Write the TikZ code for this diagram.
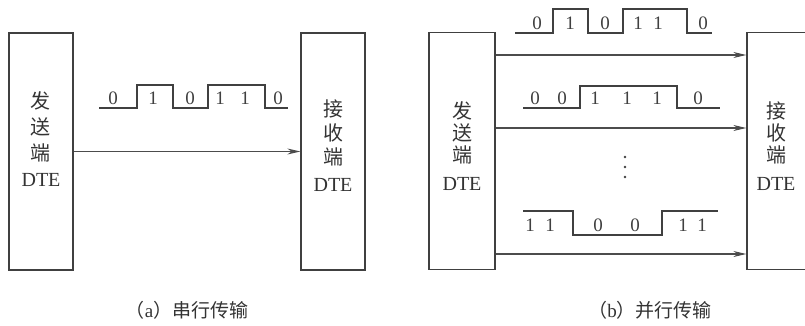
\documentclass[tikz,border=0pt]{standalone}
\usepackage{fontspec}
\setmainfont{Liberation Serif}
\newfontfamily\cjk{Noto Sans CJK SC}
\usetikzlibrary{arrows.meta}
\begin{document}
\begin{tikzpicture}[x=1pt,y=-1pt,
  box/.style={draw=black!75, line width=1.3pt, minimum width=64pt, minimum height=237pt, inner sep=0pt},
  boxtext/.style={align=center, text=black!80, inner sep=0pt},
  bit/.style={font=\fontsize{19}{19}\selectfont, text=black!75, inner sep=0pt},
  wave/.style={draw=black!75, line width=1.3pt},
  arr/.style={draw=black!70, line width=1.1pt, -{Stealth[length=13pt,width=6pt]}},
  captext/.style={font=\fontsize{19}{19}\selectfont, text=black!80, inner sep=0pt}
]
\useasboundingbox (0,0) rectangle (805,326);
\clip (0,0) rectangle (805,326);

% ---------- (a) serial ----------
\node[box] (sa) at (41,151.5) {};
\node[box] (ra) at (333,151.5) {};
\node[boxtext, font=\fontsize{20}{26}\selectfont] (sat) at (41,139) {{\cjk 发}\\{\cjk 送}\\{\cjk 端}\\DTE};
\node[boxtext, font=\fontsize{20}{24}\selectfont] (rat) at (333,146) {{\cjk 接}\\{\cjk 收}\\{\cjk 端}\\[3pt]DTE};
\draw[arr] (sa.east) -- (ra.west);

\draw[wave] (99,108) -- (137,108) -- (137,85) -- (173,85) -- (173,108) -- (208,108) -- (208,85) -- (265,85) -- (265,108) -- (288,108);
\foreach \x/\b [count=\i] in {113/0,153/1,190/0,220/1,245/1,278/0}
  \node[bit] (wa\i) at (\x,98) {\b};

\node[captext] (capa) at (187,310) {{\cjk （}a{\cjk ）串行传输}};

% ---------- (b) parallel ----------
\node[box, minimum width=66pt] (sb) at (462,151) {};
\node[box, minimum width=66pt] (rb) at (780,151) {};
\node[boxtext, font=\fontsize{20}{22}\selectfont] (sbt) at (462,146) {{\cjk 发}\\{\cjk 送}\\{\cjk 端}\\[6pt]DTE};
\node[boxtext, font=\fontsize{20}{22}\selectfont] (rbt) at (776,146) {{\cjk 接}\\{\cjk 收}\\{\cjk 端}\\[6pt]DTE};

\draw[arr] ([yshift=96pt]sb.east) -- ([yshift=96pt]rb.west);
\draw[arr] ([yshift=23pt]sb.east) -- ([yshift=23pt]rb.west);
\draw[arr] ([yshift=-103pt]sb.east) -- ([yshift=-103pt]rb.west);

\draw[wave] (515,33) -- (553,33) -- (553,9) -- (588,9) -- (588,33) -- (623,33) -- (623,9) -- (687,9) -- (687,33) -- (712,33);
\foreach \x/\b [count=\i] in {537/0,570/1,605/0,638/1,658/1,703/0}
  \node[bit] (wb\i) at (\x,23) {\b};

\draw[wave] (523,108) -- (580,108) -- (580,86) -- (677,86) -- (677,108) -- (720,108);
\foreach \x/\b [count=\i] in {535/0,562/0,595/1,627/1,657/1,698/0}
  \node[bit] (wc\i) at (\x,98) {\b};

\foreach \y [count=\i] in {157,167,177}
  \fill[black!75] (625,\y) circle (1.4pt);

\draw[wave] (523,211) -- (573,211) -- (573,235) -- (662,235) -- (662,211) -- (718,211);
\foreach \x/\b [count=\i] in {530/1,550/1,598/0,635/0,683/1,702/1}
  \node[bit] (wd\i) at (\x,225) {\b};

\node[captext] (capb) at (650,310) {{\cjk （}b{\cjk ）并行传输}};
\end{tikzpicture}
\end{document}
